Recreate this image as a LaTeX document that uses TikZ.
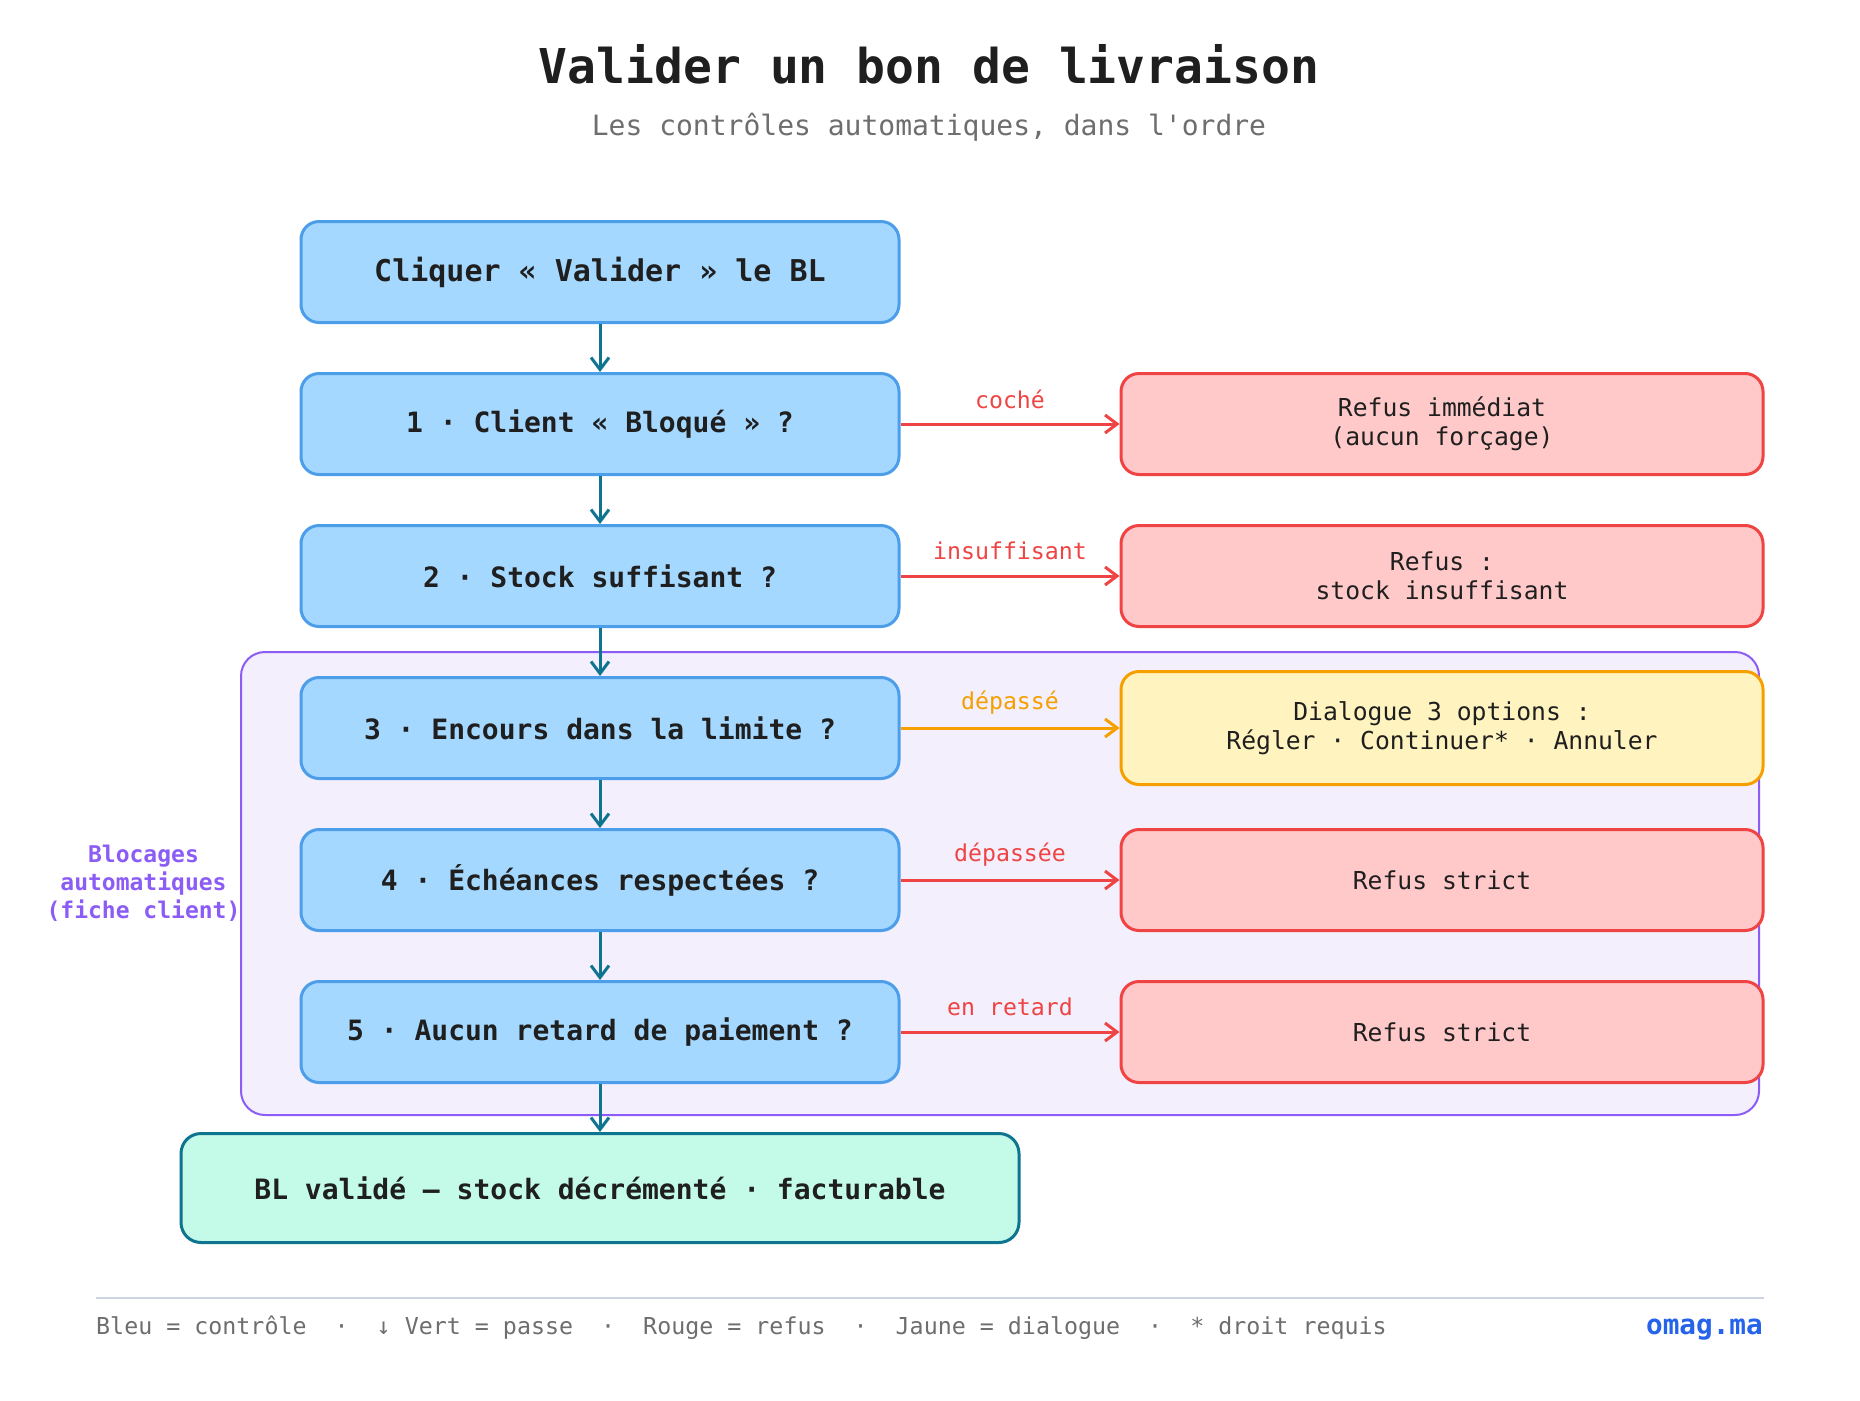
\documentclass[tikz,border=0pt]{standalone}
\usepackage{fontspec}
\setmainfont{DejaVu Sans Mono}[Ligatures=TeXOff]
\usetikzlibrary{arrows.meta}
\definecolor{ink}{HTML}{1F1F1F}
\definecolor{greyt}{HTML}{6E6E6E}
\definecolor{blueF}{HTML}{A5D8FF}
\definecolor{blueB}{HTML}{4C9EEB}
\definecolor{redF}{HTML}{FFC9C9}
\definecolor{redB}{HTML}{EF4444}
\definecolor{yelF}{HTML}{FFF3BF}
\definecolor{yelB}{HTML}{F59F00}
\definecolor{grnF}{HTML}{C3FAE8}
\definecolor{teal}{HTML}{0E7490}
\definecolor{purB}{HTML}{8B5CF6}
\definecolor{purF}{HTML}{F3EFFC}
\definecolor{rule}{HTML}{CBD5E1}
\definecolor{brand}{HTML}{2563EB}
\tikzset{
  ctrl/.style={draw=blueB, fill=blueF, line width=3pt, rounded corners=18pt,
    minimum width=598pt, minimum height=101pt, inner sep=0pt, text=ink,
    font=\fontsize{28}{32}\selectfont\bfseries},
  refus/.style={draw=redB, fill=redF, line width=3pt, rounded corners=18pt,
    minimum width=642pt, minimum height=101pt, inner sep=0pt, text=ink, align=center,
    font=\fontsize{24.7}{28.5}\selectfont},
  dialog/.style={refus, draw=yelB, fill=yelF, minimum height=113pt},
  okbox/.style={draw=teal, fill=grnF, line width=3pt, rounded corners=20pt,
    minimum width=838pt, minimum height=109pt, inner sep=0pt, text=ink,
    font=\fontsize{28}{32}\selectfont\bfseries},
  grp/.style={draw=purB, fill=purF, line width=2pt, rounded corners=24pt, inner sep=0pt},
  glabel/.style={text=purB, align=center, font=\fontsize{23}{28}\selectfont\bfseries},
  downarr/.style={draw=teal, line width=3pt, -{Straight Barb[length=12pt,width=18pt]}},
  sidearr/.style={draw=#1, line width=3pt, -{Straight Barb[length=12pt,width=18pt]}},
  elabel/.style={text=#1, midway, yshift=25pt, font=\fontsize{23.2}{27}\selectfont},
}
\begin{document}
\begin{tikzpicture}[x=1pt,y=-1pt]
\useasboundingbox (0,0) rectangle (1860,1400);
\fill[white] (0,0) rectangle (1860,1400);

\node[text=ink, font=\fontsize{48}{56}\selectfont\bfseries] (title) at (929,64) {Valider un bon de livraison};
\node[text=greyt, font=\fontsize{28}{32}\selectfont] (sub) at (929,127) {Les contrôles automatiques, dans l'ordre};

\node[grp, minimum width=1518pt, minimum height=463pt] (group) at (1000,883.5) {};
\node[glabel] (glab) at (143.5,883) {Blocages\\automatiques\\(fiche client)};

\node[ctrl, font=\fontsize{30}{34}\selectfont\bfseries] (b0) at (600,272) {Cliquer « Valider » le BL};
\node[ctrl] (b1) at (600,424) {1 · Client « Bloqué » ?};
\node[ctrl] (b2) at (600,576) {2 · Stock suffisant ?};
\node[ctrl] (b3) at (600,728) {3 · Encours dans la limite ?};
\node[ctrl] (b4) at (600,880) {4 · Échéances respectées ?};
\node[ctrl] (b5) at (600,1032) {5 · Aucun retard de paiement ?};
\node[okbox] (ok) at (600,1188) {BL validé — stock décrémenté · facturable};

\node[refus] (r1) at (1442,424) {Refus immédiat\\(aucun forçage)};
\node[refus] (r2) at (1442,576) {Refus :\\stock insuffisant};
\node[dialog] (r3) at (1442,728) {Dialogue 3 options :\\Régler · Continuer* · Annuler};
\node[refus] (r4) at (1442,880) {Refus strict};
\node[refus] (r5) at (1442,1032) {Refus strict};

\draw[downarr] (b0.south) -- (b1.north);
\draw[downarr] (b1.south) -- (b2.north);
\draw[downarr] (b2.south) -- (b3.north);
\draw[downarr] (b3.south) -- (b4.north);
\draw[downarr] (b4.south) -- (b5.north);
\draw[downarr] (b5.south) -- (ok.north);

\draw[sidearr=redB] (b1.east) -- node[elabel=redB] {coché} (r1.west);
\draw[sidearr=redB] (b2.east) -- node[elabel=redB] {insuffisant} (r2.west);
\draw[sidearr=yelB] (b3.east) -- node[elabel=yelB] {dépassé} (r3.west);
\draw[sidearr=redB] (b4.east) -- node[elabel=redB] {dépassée} (r4.west);
\draw[sidearr=redB] (b5.east) -- node[elabel=redB] {en retard} (r5.west);

\coordinate (fl) at (96,1298);
\coordinate (fr) at (1764,1298);
\draw[rule, line width=2pt] (fl) -- (fr);
\node[anchor=west, text=greyt, inner sep=0pt, font=\fontsize{23.3}{27}\selectfont] (legend) at (96,1328)
  {Bleu = contrôle\ \ ·\ \ ↓ Vert = passe\ \ ·\ \ Rouge = refus\ \ ·\ \ Jaune = dialogue\ \ ·\ \ * droit requis};
\node[anchor=east, text=brand, inner sep=0pt, font=\fontsize{27.7}{32}\selectfont\bfseries] (brandn) at (1763,1330) {omag.ma};
\end{tikzpicture}
\end{document}
